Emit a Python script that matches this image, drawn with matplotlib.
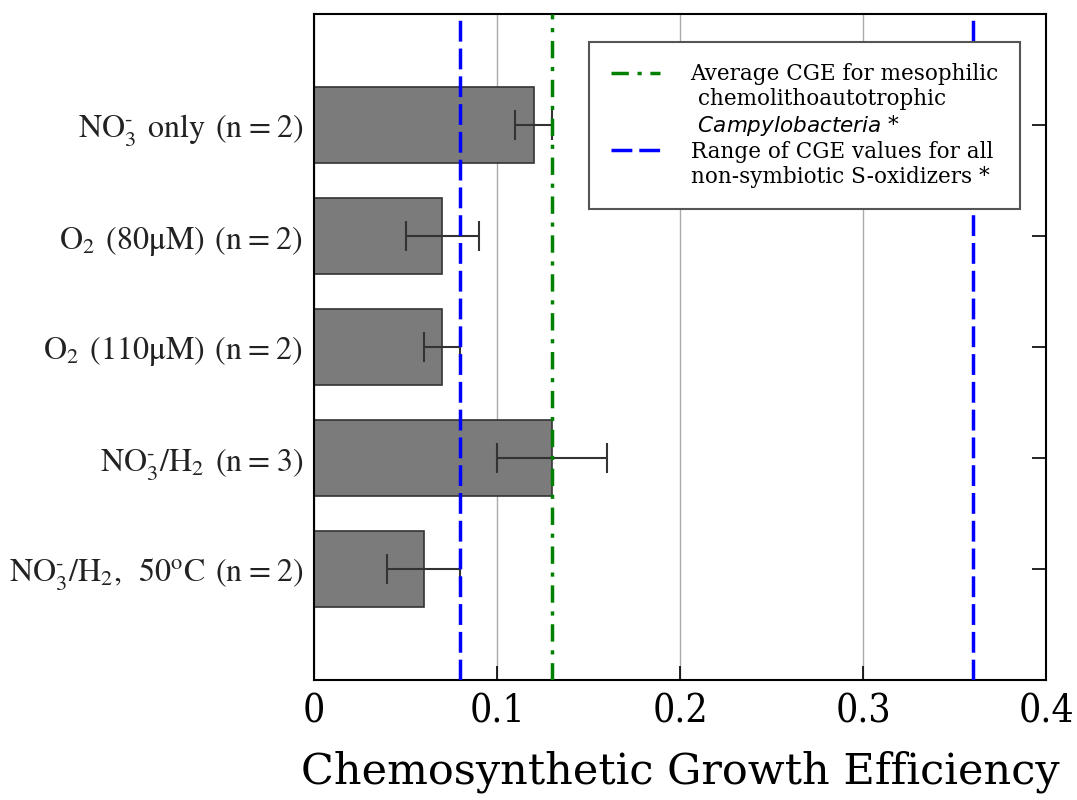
import matplotlib
matplotlib.use("Agg")
import matplotlib.pyplot as plt
from matplotlib.lines import Line2D

plt.rcParams['mathtext.fontset'] = 'custom'
plt.rcParams['mathtext.rm'] = 'STIXGeneral'
plt.rcParams['mathtext.it'] = 'DejaVu Sans:italic'

# data
labels = [r'$\mathrm{NO_3^{\text{-}}\ only\ (n=2)}$',
          r'$\mathrm{O_2\ (80\mu M)\ (n=2)}$',
          r'$\mathrm{O_2\ (110\mu M)\ (n=2)}$',
          r'$\mathrm{NO_3^{\text{-}}/H_2\ (n=3)}$',
          r'$\mathrm{NO_3^{\text{-}}/H_2,\ 50^oC\ (n=2)}$']
cge = [0.12, 0.07, 0.07, 0.13, 0.06]
cge_err = [0.01, 0.02, 0.01, 0.03, 0.02]
avg_campy = 0.13
range_sox = [0.08, 0.36]
xticks = [0, 0.1, 0.2, 0.3, 0.4]
xticklabels = ['0', '0.1', '0.2', '0.3', '0.4']

fig = plt.figure(figsize=(10.77, 8), dpi=100)
ax = fig.add_axes([0.2916, 0.15, 0.6796, 0.8325])

ypos = list(range(len(labels)))
ax.barh(ypos, cge, height=0.68, color='#7b7b7b', edgecolor='#333333',
        linewidth=1.2, zorder=2)
ax.errorbar(cge, ypos, xerr=cge_err, fmt='none', ecolor='#333333',
            elinewidth=1.5, capsize=11, capthick=1.5, zorder=3)

green_ls = (0, (5, 2.5, 1.2, 2.5))
blue_ls = (0, (6, 2))
ax.axvline(avg_campy, color='green', ls=green_ls, lw=2.5, zorder=4)
ax.axvline(range_sox[0], color='blue', ls=blue_ls, lw=2.5, zorder=4)
ax.axvline(range_sox[1], color='blue', ls=blue_ls, lw=2.5, zorder=4)

ax.set_xlim(0, 0.4)
ax.set_ylim(len(labels), -1)
ax.set_yticks(ypos)
ax.set_yticklabels(labels, fontsize=23, color='#222222')
ax.set_xticks(xticks)
ax.set_xticklabels(xticklabels, fontsize=28, family='DejaVu Serif',
                   fontstretch='condensed')
ax.set_xlabel('Chemosynthetic Growth Efficiency', fontsize=31,
              family='DejaVu Serif', labelpad=14)
ax.xaxis.grid(True, color='#aaaaaa', lw=1, zorder=0)
ax.set_axisbelow(True)
ax.tick_params(axis='both', direction='in', length=10, width=1.2, right=True)
ax.tick_params(axis='x', pad=10)
ax.tick_params(axis='y', pad=8)
for s in ax.spines.values():
    s.set_linewidth(1.5)

# legend rows: handle only on the first line of each entry
blank = Line2D([], [], color='none')
handles = [Line2D([], [], color='green', ls=green_ls, lw=2.5), blank, blank,
           Line2D([], [], color='blue', ls=blue_ls, lw=2.5), blank]
texts = ['Average CGE for mesophilic', ' chemolithoautotrophic',
         ' $Campylobacteria$ *',
         'Range of CGE values for all', 'non-symbiotic S-oxidizers *']
leg = ax.legend(handles, texts,
                loc='upper right', bbox_to_anchor=(0.965, 0.958), borderaxespad=0,
                fancybox=False, framealpha=1, handlelength=2.3, handletextpad=1.4,
                borderpad=1.0, labelspacing=0.13,
                prop={'family': 'DejaVu Serif', 'size': 15.5})
leg.get_frame().set_edgecolor('#555555')
leg.get_frame().set_linewidth(1.5)

fig.savefig('out.png', dpi=100)
